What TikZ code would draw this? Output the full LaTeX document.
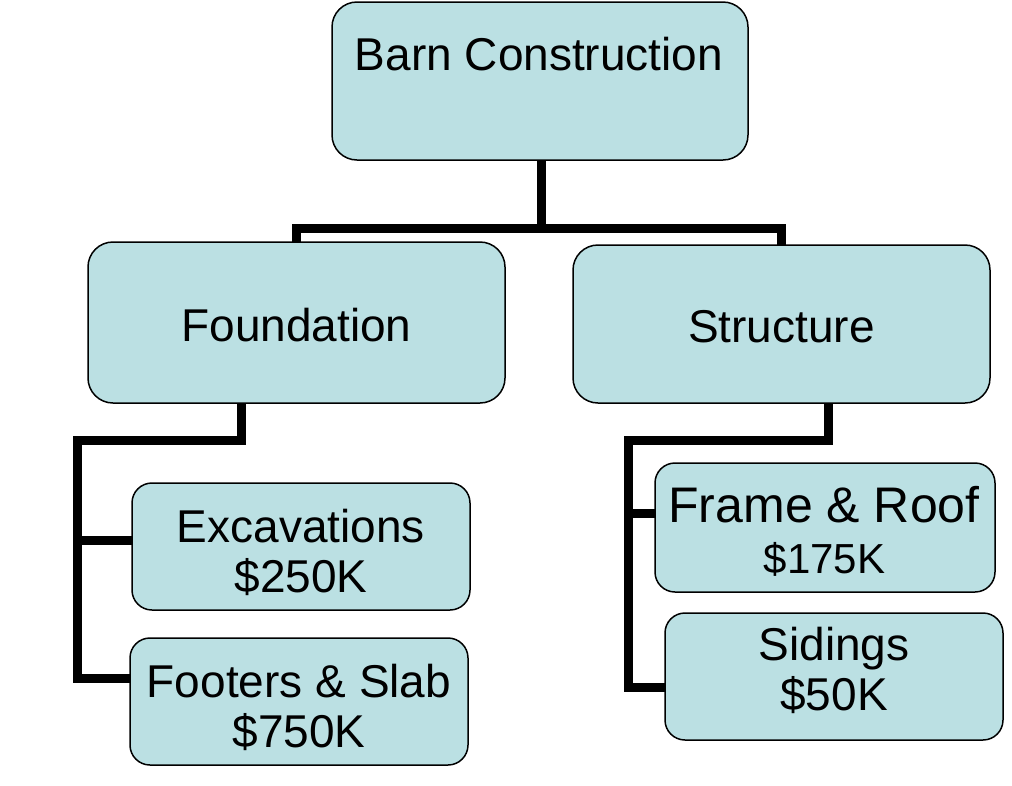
\documentclass[tikz,border=0pt]{standalone}
\usepackage{fontspec}
\setmainfont{Liberation Sans}
\definecolor{boxfill}{RGB}{187,224,227}
\tikzset{
  box/.style={draw=black, line width=1.5pt, fill=boxfill, rectangle, inner sep=0pt, outer sep=0pt},
  bigbox/.style={box, rounded corners=25pt},
  smallbox/.style={box, rounded corners=20pt},
  txt/.style={anchor=base, inner sep=0pt, font=\fontsize{46}{50}\selectfont},
  conn/.style={draw=black, line width=9pt, line join=miter}
}
\begin{document}
\begin{tikzpicture}[x=1pt,y=-1pt]
\useasboundingbox (0,0) rectangle (1012,785);
% boxes
\node[bigbox, minimum width=416pt, minimum height=158pt] (barn) at (540,81) {};
\node[bigbox, minimum width=417pt, minimum height=161pt] (found) at (296.5,322.5) {};
\node[bigbox, minimum width=417pt, minimum height=158pt] (struct) at (781.5,324) {};
\node[smallbox, minimum width=338pt, minimum height=127pt] (exc) at (301,546.5) {};
\node[smallbox, minimum width=338pt, minimum height=127pt] (foot) at (299,701.5) {};
\node[smallbox, minimum width=340pt, minimum height=129pt] (frame) at (825,527.5) {};
\node[smallbox, minimum width=338pt, minimum height=127pt] (sid) at (834,676.5) {};
% helper coordinates
\coordinate (jB) at (541,228);
\coordinate (fL) at (241,0);
\coordinate (fK) at (77,440);
\coordinate (fE) at (0,540);
\coordinate (fF) at (0,678);
\coordinate (sL) at (828,0);
\coordinate (sK) at (628,440);
\coordinate (sE) at (0,513);
\coordinate (sF) at (0,687);
% connectors
\draw[conn] (barn.south -| jB) -- (jB);
\draw[conn] (found.north) |- (jB) -| (struct.north);
\draw[conn] (found.south -| fL) |- (fK) |- (foot.west |- fF);
\draw[conn] (fK |- fE) -- (exc.west |- fE);
\draw[conn] (struct.south -| sL) |- (sK) |- (sid.west |- sF);
\draw[conn] (sK |- sE) -- (frame.west |- sE);
% texts
\node[txt] (barnT) at (539,70) {Barn Construction};
\node[txt] (foundT) at (296.5,341) {Foundation};
\node[txt] (structT) at (781.5,342) {Structure};
\node[txt] (excT1) at (301,542) {Excavations};
\node[txt] (excT2) at (301,592) {\$250K};
\node[txt] (footT1) at (299,697) {Footers \& Slab};
\node[txt] (footT2) at (299,747) {\$750K};
\node[txt, font=\fontsize{50}{54}\selectfont] (frameT1) at (824,522) {Frame \& Roof};
\node[txt, font=\fontsize{42}{46}\selectfont] (frameT2) at (824.5,573) {\$175K};
\node[txt] (sidT1) at (834,660) {Sidings};
\node[txt] (sidT2) at (834,710) {\$50K};
\end{tikzpicture}
\end{document}
